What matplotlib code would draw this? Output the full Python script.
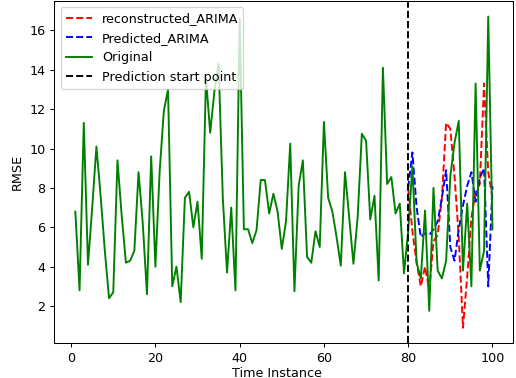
import matplotlib
matplotlib.use("Agg")
import matplotlib.pyplot as plt
import numpy as np

# time index of the original series
time_original = np.arange(1, 101)
original = [
    6.8, 2.8, 11.3, 4.1, 7.0, 10.1, 7.6, 4.8, 2.4, 2.7,
    9.4, 6.6, 4.2, 4.3, 4.8, 8.8, 6.2, 2.6, 9.6, 4.0,
    8.8, 11.9, 13.0, 3.0, 4.0, 2.2, 7.5, 7.8, 6.0, 7.3,
    4.4, 13.6, 10.8, 12.9, 14.3, 7.5, 3.7, 7.0, 2.8, 16.6,
    5.9, 5.9, 5.2, 5.85, 8.4, 8.4, 6.7, 7.7, 6.8, 4.9,
    6.3, 10.25, 2.75, 8.1, 9.4, 4.5, 4.2, 5.8, 5.0, 11.35,
    7.5, 6.8, 5.5, 4.05, 8.8, 6.5, 4.15, 6.5, 10.75, 10.4,
    6.4, 7.6, 3.3, 14.1, 8.2, 8.55, 6.7, 7.2, 3.66, 5.8,
    9.1, 4.2, 3.4, 6.85, 1.76, 8.0, 3.8, 3.4, 4.3, 8.6,
    10.3, 11.4, 3.8, 7.2, 3.0, 13.3, 3.8, 4.8, 16.7, 5.9,
]

# prediction window
time_pred = np.arange(80, 101)
reconstructed_arima = [
    8.0, 5.8, 4.2, 3.0, 4.0, 2.8, 5.3, 5.6, 7.5, 11.3,
    11.0, 8.6, 5.5, 0.9, 3.5, 6.5, 7.8, 8.2, 13.3, 8.8,
    7.5,
]
predicted_arima = [
    8.0, 9.8, 7.0, 5.5, 5.7, 5.6, 5.9, 6.3, 7.5, 8.9,
    5.0, 4.3, 5.9, 7.1, 8.1, 8.8, 7.3, 8.5, 9.0, 3.0,
    8.1,
]
prediction_start = 80

# the reference looks like a default figure rendered slightly smaller
dpi = 92
fig, ax = plt.subplots(figsize=(516 / dpi, 378 / dpi), dpi=dpi)
fig.subplots_adjust(left=0.1056, right=0.9948, bottom=0.0918, top=0.9974)

ax.plot(time_pred, reconstructed_arima, color="red", linestyle="--", label="reconstructed_ARIMA")
ax.plot(time_pred, predicted_arima, color="blue", linestyle="--", label="Predicted_ARIMA")
ax.plot(time_original, original, color="green", label="Original")
ax.axvline(prediction_start, color="black", linestyle="--", label="Prediction start point")

ax.set_xlabel("Time Instance", labelpad=1.5)
ax.xaxis.label.set_x(0.485)
ax.set_ylabel("RMSE")
ax.legend(loc="upper left")

fig.savefig("out.png", dpi=dpi)
